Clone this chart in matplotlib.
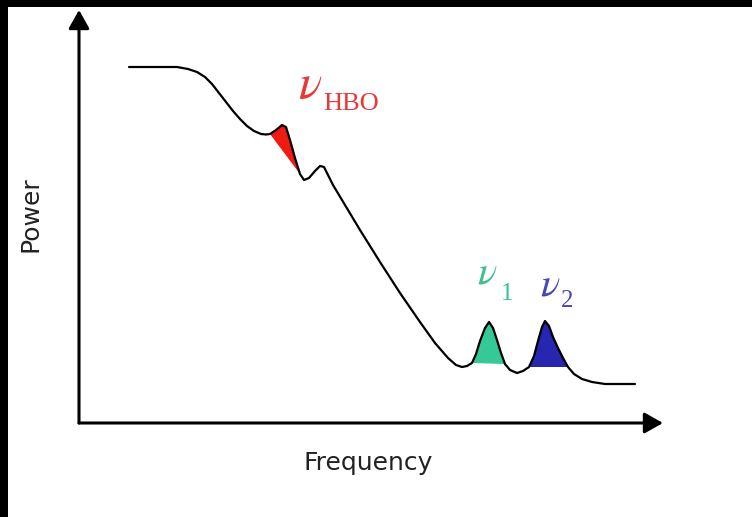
import matplotlib
matplotlib.use("Agg")
import matplotlib.pyplot as plt
import numpy as np

# Curve (arbitrary units: frequency -> right, power -> up)
freq = [50, 71, 91, 98, 109, 118, 126, 133, 140, 147, 154, 161, 168, 175, 182, 187,
        191, 197, 203, 207, 211, 216, 221,
        225, 230, 236, 241, 245, 249, 254, 266, 281, 301, 321, 341, 356, 369, 377, 383, 388,
        393, 397, 401, 406, 410, 414, 418, 422, 426,
        431, 438, 444,
        450, 455, 459, 463, 466, 470, 474, 479, 484, 489,
        495, 503, 513, 526, 541, 556]
power = [356, 356, 356, 356, 354, 351, 346, 339, 330, 321, 312, 304, 297, 292, 289, 288.5,
         289, 293, 298, 296, 283, 265, 249,
         243, 245, 252, 257, 256, 248, 238, 218, 193, 161, 130, 101, 80, 65, 58, 56, 57,
         60, 69, 82, 95, 101, 95, 83, 70, 59,
         53, 50, 52,
         56, 67, 82, 96, 102, 97, 86, 75, 65, 56,
         49, 44, 41, 39, 39, 39]

# Frequency bands of the highlighted peaks
band_names = ["HBO", "1", "2"]
band_lo = [191, 393, 450]
band_hi = [221, 426, 489]
band_colors = ["#f01a12", "#35c997", "#2626b0"]
label_colors = ["#e8383a", "#3cc08c", "#4646b8"]
# label anchor (baseline of the nu) and subscript anchor
label_x = [219, 398, 461]
label_y = [325, 140, 128]
sub_x = [244, 422, 482]
sub_y = [313, 123, 116]
nu_size = [35, 29, 29]
sub_size = [19, 18, 18]

x_max, y_max = 584, 413

plt.rcParams['mathtext.fontset'] = 'stix'
fig = plt.figure(figsize=(7.52, 5.17), dpi=100)
fig.patch.set_facecolor("white")
# black frame (left and top)
fig.add_artist(plt.Rectangle((0, 0), 8 / 752, 1, transform=fig.transFigure,
                             facecolor="black", edgecolor="none", zorder=-5))
fig.add_artist(plt.Rectangle((0, 1 - 7 / 517), 1, 7 / 517, transform=fig.transFigure,
                             facecolor="black", edgecolor="none", zorder=-5))

ax = fig.add_axes([79 / 752, (517 - 423) / 517, (663 - 79) / 752, (423 - 10) / 517])
ax.set_xlim(0, x_max)
ax.set_ylim(0, y_max)
ax.patch.set_alpha(0)
for s in ax.spines.values():
    s.set_visible(False)
ax.set_xticks([])
ax.set_yticks([])

f = np.array(freq)
p = np.array(power)
for lo, hi, c in zip(band_lo, band_hi, band_colors):
    m = (f >= lo) & (f <= hi)
    ax.fill(f[m], p[m], color=c, lw=0, zorder=2)

ax.plot(f, p, color="black", lw=1.6, zorder=3, solid_capstyle="round",
        solid_joinstyle="round")

# axes arrows
arrow = dict(arrowstyle="-|>,head_length=0.8,head_width=0.45", lw=2.2, color="black",
             shrinkA=0, shrinkB=0, mutation_scale=14)
ax.annotate("", xy=(1, 0), xytext=(0, 0), xycoords="axes fraction", arrowprops=arrow,
            annotation_clip=False)
ax.annotate("", xy=(0, 1), xytext=(0, 0), xycoords="axes fraction", arrowprops=arrow,
            annotation_clip=False)

for name, c, lx, ly, sx, sy, ns, ss in zip(band_names, label_colors, label_x, label_y,
                                           sub_x, sub_y, nu_size, sub_size):
    ax.text(lx, ly, r"$\nu$", color=c, fontsize=ns, ha="left", va="baseline", zorder=4)
    ax.text(sx, sy, name, color=c, fontsize=ss, ha="left", va="baseline", zorder=4,
            family="Liberation Serif")

fig.text(368 / 752, 1 - 463 / 517, "Frequency", fontsize=18, color="#222222",
         ha="center", va="center", family="DejaVu Sans")
fig.text(30 / 752, 1 - 214 / 517, "Power", fontsize=18, color="#222222", rotation=90,
         ha="center", va="center", family="DejaVu Sans")

fig.savefig("out.png", dpi=100, facecolor=fig.get_facecolor())
